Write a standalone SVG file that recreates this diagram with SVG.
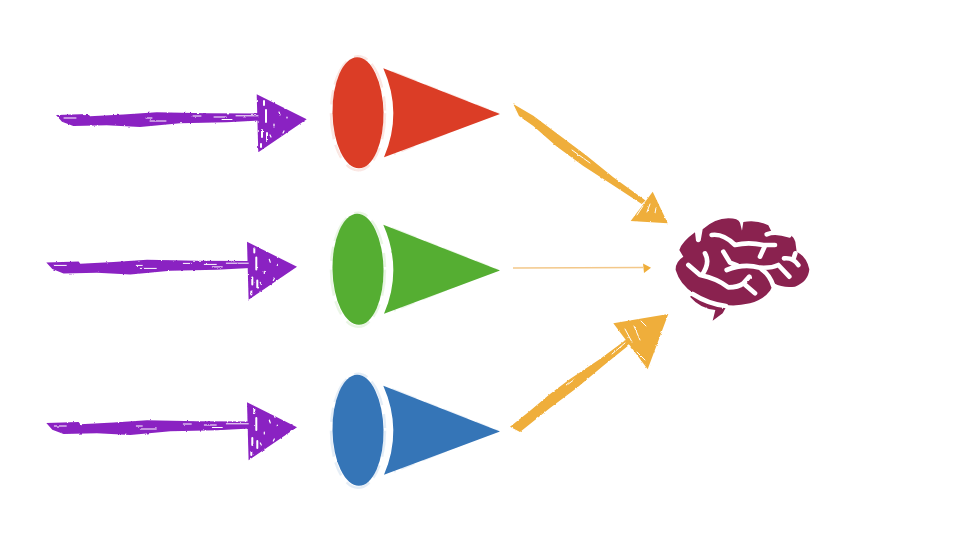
<svg xmlns="http://www.w3.org/2000/svg" xmlns:xlink="http://www.w3.org/1999/xlink" width="960" height="544" viewBox="0 0 960 544">
<style>
.purple{fill:#8a22c2}
.orange{fill:#efae3a}
.fleck{fill:none;stroke:#fff;stroke-linecap:round}
.fold{fill:none;stroke:#fff;stroke-width:14;stroke-linecap:round;stroke-linejoin:round}
.halo{fill:none;stroke-width:2.500;stroke-opacity:.13;stroke-dasharray:26 9 14 6}
</style>
<defs>
<filter id="rough" filterUnits="userSpaceOnUse" x="0" y="0" width="960" height="544">
<feTurbulence type="fractalNoise" baseFrequency="0.3" numOctaves="2" seed="4" result="n"/>
<feDisplacementMap in="SourceGraphic" in2="n" scale="2.200" xChannelSelector="R" yChannelSelector="G"/>
</filter>
<filter id="soft" filterUnits="userSpaceOnUse" x="0" y="0" width="960" height="544">
<feTurbulence type="fractalNoise" baseFrequency="0.2" numOctaves="2" seed="9" result="n"/>
<feDisplacementMap in="SourceGraphic" in2="n" scale="1.400" xChannelSelector="R" yChannelSelector="G"/>
</filter>
<g id="purple-arrow">
<path class="purple" d="M56 115L88.300 114L90 116.300L123.300 114.500L156.700 112.300L206.700 113.300L258 113.500L260 120.500L226.700 122.300L180 123.300L140 127L106.700 125.300L73.300 126L62 121.700Z"/>
<path class="purple" d="M256.700 94.300L306.700 119.300L258.300 152.300Z"/>
<path class="fleck" stroke-width="1" d="M64 118H76M146 118H152M150 121H166M193 116H201M214 117H226M222 119.500H232M236 115.800H258"/>
<path class="fleck" stroke-width="2" d="M264 101V105M266 110V122M262 130V137M267 133V140M261 144V147"/>
<path class="fleck" stroke-width="1.200" d="M279 112l1 3M274 124v2M270 135l1 2M284 131l-1 2M278 140v1M287 117v1"/>
</g>
<g id="cone-body">
<ellipse cx="358" cy="112.800" rx="25.500" ry="55.500" transform="rotate(-1 358 112.800)"/>
<path d="M383.300 68.300L500 114L384 157.300Q403 113 383.300 68.300Z"/>
</g>
<g id="cone-halo">
<ellipse class="halo" cx="358" cy="113.300" rx="27" ry="57"/>
<path class="halo" d="M392 72L496 113L394 154"/>
</g>
</defs>
<rect width="960" height="544" fill="#fff"/>

<g id="connectors">
<g id="inputs" filter="url(#rough)">
<use id="input-red" xlink:href="#purple-arrow" href="#purple-arrow"/>
<use id="input-green" xlink:href="#purple-arrow" href="#purple-arrow" transform="translate(-9.700 147.400)"/>
<use id="input-blue" xlink:href="#purple-arrow" href="#purple-arrow" transform="translate(-9.700 308)"/>
</g>
<g id="outputs" filter="url(#rough)">
<g id="output-red">
<path class="orange" d="M513.300 104L533.300 115.700L560 135.700L586.700 155.700L613.300 177.300L645.500 200.500L641.700 204L610 183.300L583.300 166L556.700 146.500L533.300 126L519 116Z"/>
<path class="orange" d="M652.700 191.700L667.700 223.300L630.700 221Z"/>
<path class="fleck" stroke-width="1" d="M572 150L590 163M643 206L637 215M650 204L647 212M656 208L655 213"/>
</g>
<g id="output-blue">
<path class="orange" d="M510 426.700L528.300 412.300L550 394L570 379L600 359L626.700 339.300L630 344.300L603 366L576.700 388L550 408L520 432Z"/>
<path class="orange" d="M613.300 323.300L668.300 314L647.700 369.300Z"/>
<path class="fleck" stroke-width="1" d="M567 385L575 379M612 354L625 343M625 329L632 342M634 326L640 340M641 321L646 326M637 352L645 360"/>
</g>
</g>
<g id="output-green" filter="url(#soft)">
<path fill="none" stroke="#f3c88a" stroke-width="1.500" d="M513 268L643 267.500"/>
<path class="orange" d="M643 263.500L651 267.800L644 273Z"/>
</g>
</g>

<g id="node-red" fill="#db3c25" stroke="#db3c25" filter="url(#soft)">
<use xlink:href="#cone-halo" href="#cone-halo"/>
<use xlink:href="#cone-body" href="#cone-body" stroke="none"/>
</g>
<g id="node-green" fill="#54ae32" stroke="#54ae32" filter="url(#soft)">
<use xlink:href="#cone-halo" href="#cone-halo" transform="translate(0 156.500)"/>
<use xlink:href="#cone-body" href="#cone-body" stroke="none" transform="translate(0 156.500)"/>
</g>
<g id="node-blue" fill="#3474b7" stroke="#3474b7" filter="url(#soft)">
<use xlink:href="#cone-halo" href="#cone-halo" transform="translate(0 317.500)"/>
<use xlink:href="#cone-body" href="#cone-body" stroke="none" transform="translate(0 317.500)"/>
</g>

<g id="node-brain" filter="url(#soft)">
<g transform="translate(660 200) scale(.3333)">
<path fill="#8a2050" d="M47 210Q46 185 70 170L58 150Q66 125 105 97L108 122Q114 132 122 122L128 88Q165 55 205 55Q235 55 240 68L246 92L250 66Q290 58 325 76L335 96Q395 90 406 125L410 155Q440 170 448 208Q445 245 405 260Q370 265 342 250L330 272Q310 300 270 310Q225 320 195 314L198 322L188 340L158 362L166 330Q120 325 90 290L104 282Q60 255 47 210Z"/>
<path class="fold" stroke-width="9" d="M98 282Q145 312 198 318"/>
<path class="fold" d="M155 105Q190 100 225 135Q265 125 310 135L345 135M315 137L300 170"/>
<path class="fold" stroke-width="10" d="M320 103Q345 92 388 106"/>
<path class="fold" stroke-width="12" d="M372 175Q400 172 415 195M406 160L400 178"/>
<path class="fold" d="M190 155L210 188L232 196M200 210Q250 190 300 203Q335 205 355 195L388 230M305 208Q330 225 340 258"/>
<path class="fold" d="M85 195L120 225Q170 235 205 262Q235 262 250 250L285 280M268 230L250 250M135 160Q152 190 125 226"/>
</g>
</g>
</svg>
